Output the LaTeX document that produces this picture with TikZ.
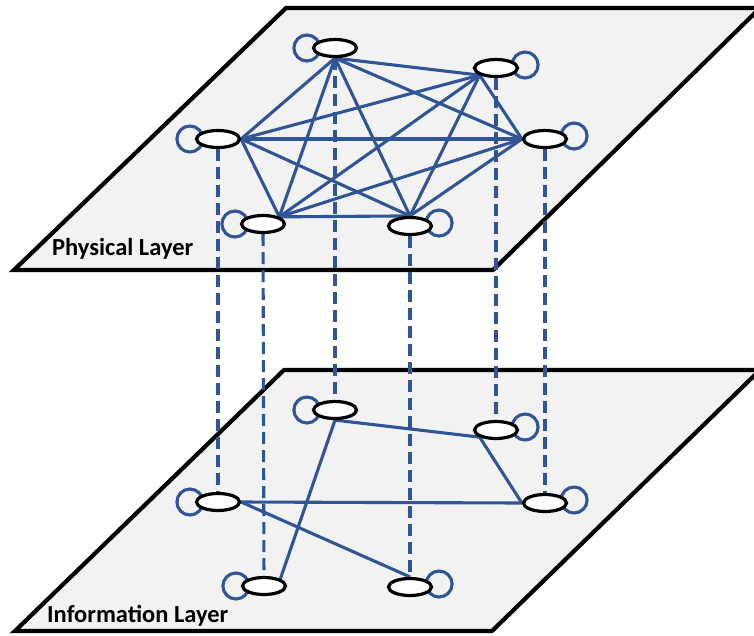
\documentclass[tikz,border=0pt]{standalone}
\usepackage{fontspec}
\setmainfont{Carlito}
\usepackage{tikz}
\usetikzlibrary{shapes,arrows,positioning}
\definecolor{linkblue}{HTML}{2F5597}
\definecolor{planegray}{HTML}{F2F2F2}
\tikzstyle{agent} = [ellipse, draw, fill=white, line width=3.2pt, minimum width=43pt, minimum height=17pt, inner sep=0pt]
\tikzstyle{plane} = [draw, fill=planegray, line width=4.2pt, line join=miter]
\tikzstyle{link} = [draw=linkblue, line width=3.1pt]
\tikzstyle{drop} = [link, dash pattern=on 12pt off 6pt]
\tikzstyle{layerlabel} = [font=\bfseries\fontsize{24.5}{28}\selectfont, anchor=base west, inner sep=0pt]
\pgfdeclarelayer{planes}
\pgfdeclarelayer{lines}
\pgfsetlayers{planes,lines,main}

\begin{document}
\begin{tikzpicture}[x=1pt, y=-1pt]
    \clip (0,0) rectangle (754,635);

    % the two layers
    \begin{pgfonlayer}{planes}
        \path[plane] (286,8) -- (760,8) -- (493,270) -- (14,270) -- cycle;
        \path[plane] (284,370) -- (760,370) -- (492,631) -- (15,631) -- cycle;
    \end{pgfonlayer}

    \node[layerlabel] (physlabel) at (52,255) {Physical Layer};
    \node[layerlabel] (infolabel) at (47,622) {Information Layer};

    % physical layer
    \node[agent] (p1) at (335,48) {};
    \node[agent] (p2) at (496,68) {};
    \node[agent] (p3) at (218,139) {};
    \node[agent] (p4) at (545,139) {};
    \node[agent] (p5) at (263,224) {};
    \node[agent] (p6) at (410,226) {};

    % information layer
    \node[agent] (i1) at (335,410) {};
    \node[agent] (i2) at (496,430) {};
    \node[agent] (i3) at (218,502) {};
    \node[agent] (i4) at (545,503) {};
    \node[agent] (i5) at (264,586) {};
    \node[agent] (i6) at (410,587) {};

    \begin{pgfonlayer}{lines}
        % self loops
        \path[link] ([xshift=-5pt]p1.west) circle[radius=13pt];
        \path[link] ([xshift=6pt,yshift=3pt]p2.east) circle[radius=13pt];
        \path[link] ([xshift=-5pt]p3.west) circle[radius=13pt];
        \path[link] ([xshift=6pt,yshift=3pt]p4.east) circle[radius=13pt];
        \path[link] ([xshift=-5pt]p5.west) circle[radius=13pt];
        \path[link] ([xshift=6pt,yshift=3pt]p6.east) circle[radius=13pt];
        \path[link] ([xshift=-5pt]i1.west) circle[radius=13pt];
        \path[link] ([xshift=6pt,yshift=3pt]i2.east) circle[radius=13pt];
        \path[link] ([xshift=-5pt]i3.west) circle[radius=13pt];
        \path[link] ([xshift=6pt,yshift=3pt]i4.east) circle[radius=13pt];
        \path[link] ([xshift=-5pt]i5.west) circle[radius=13pt];
        \path[link] ([xshift=6pt,yshift=3pt]i6.east) circle[radius=13pt];

        % physical links, everyone to everyone
        \path[link] (p1.south) -- (p2.south west);
        \path[link] (p1.south) -- (p3.east);
        \path[link] (p1.south) -- (p4.west);
        \path[link] (p1.south) -- (p5.north east);
        \path[link] (p1.south) -- (p6.north);
        \path[link] (p2.south west) -- (p3.east);
        \path[link] (p2.south west) -- (p4.west);
        \path[link] (p2.south west) -- (p5.north east);
        \path[link] (p2.south west) -- (p6.north);
        \path[link] (p3.east) -- (p4.west);
        \path[link] (p3.east) -- (p5.north east);
        \path[link] (p3.east) -- (p6.north);
        \path[link] (p4.west) -- (p5.north east);
        \path[link] (p4.west) -- (p6.north);
        \path[link] (p5.north east) -- (p6.north);

        % information links
        \path[link] (i1.south) -- (i2.south west);
        \path[link] (i2.south west) -- (i4.west);
        \path[link] (i3.east) -- (i4.west);
        \path[link] (i1.south) -- (i5.north east);
        \path[link] (i3.east) -- (i6.north);

        % same agent in both layers
        \path[drop] (p1) -- (i1);
        \path[drop] (p2) -- (i2);
        \path[drop] (p3) -- (i3);
        \path[drop] (p4) -- (i4);
        \path[drop] (p5) -- (i5);
        \path[drop] (p6) -- (i6);
    \end{pgfonlayer}
\end{tikzpicture}
\end{document}
